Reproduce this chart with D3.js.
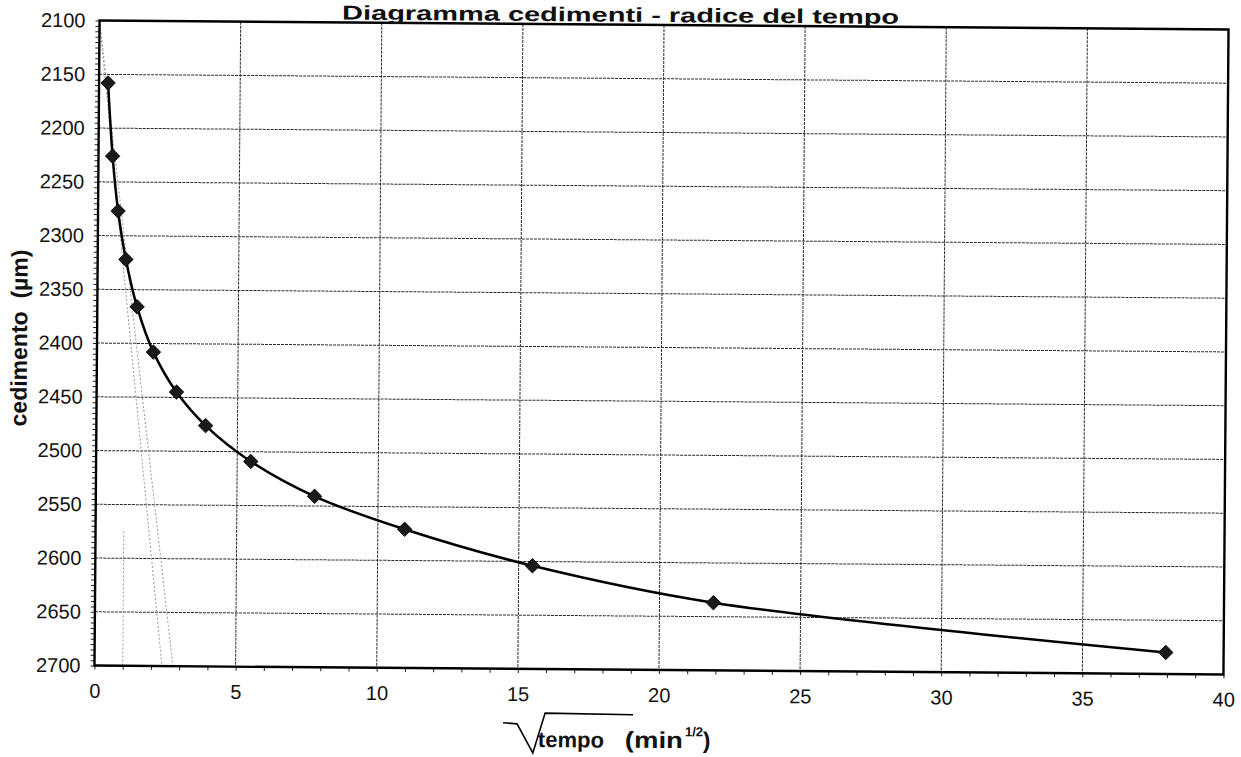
<!DOCTYPE html>
<html>
<head>
<meta charset="utf-8">
<script src="https://cdn.jsdelivr.net/npm/d3@7"></script>
<style>
  body { margin: 0; background: #fff; }
  text { font-family: "Liberation Sans", Arial, sans-serif; fill: #111; white-space: pre; }
</style>
</head>
<body>
<svg id="chart"></svg>
<script>
// data
const radiceTempo = [0.32, 0.5, 0.71, 1.0, 1.41, 2.0, 2.83, 3.87, 5.48, 7.75, 10.95, 15.49, 21.91, 37.95];
const cedimento = [2158, 2226, 2277, 2322, 2366, 2408, 2445, 2476, 2509, 2541, 2571, 2604, 2637, 2680];

// Taylor construction lines (thin grey)
const rettaA = [[0, 2100], [2.39, 2700]];
const rettaB = [[0, 2100], [2.78, 2700]];
const verticale = [[1.0, 2575], [1.0, 2700]];

const xTicks = [0, 5, 10, 15, 20, 25, 30, 35, 40];
const yTicks = [2100, 2150, 2200, 2250, 2300, 2350, 2400, 2450, 2500, 2550, 2600, 2650, 2700];

const W = 1241, H = 757;
const pLeft = 97, pRight = 1226, pTop = 25, pBottom = 670;

const svg = d3.select("#chart").attr("width", W).attr("height", H);
svg.append("rect").attr("width", W).attr("height", H).attr("fill", "#fff");

// scan is slightly tilted
const g = svg.append("g").attr("transform", "rotate(0.45, 661.5, 347.5)");

const x = d3.scaleLinear().domain([0, 40]).range([pLeft, pRight]);
const y = d3.scaleLinear().domain([2100, 2700]).range([pTop, pBottom]);

// griglia
g.append("g").selectAll("line")
  .data(xTicks.slice(1, -1))
  .enter().append("line")
  .attr("x1", d => x(d)).attr("x2", d => x(d))
  .attr("y1", pTop).attr("y2", pBottom)
  .attr("stroke", "#2a2a2a").attr("stroke-width", 1)
  .attr("stroke-dasharray", "3,1");

g.append("g").selectAll("line")
  .data(yTicks.slice(1, -1))
  .enter().append("line")
  .attr("x1", pLeft).attr("x2", pRight)
  .attr("y1", d => y(d)).attr("y2", d => y(d))
  .attr("stroke", "#2a2a2a").attr("stroke-width", 1)
  .attr("stroke-dasharray", "3,1");

// tacche minori
const yMinor = g.append("g").attr("transform", `translate(${pLeft},0)`)
  .call(d3.axisLeft(y).tickValues(d3.range(2100, 2701, 5)).tickSize(4).tickFormat(""));
yMinor.select(".domain").remove();
yMinor.selectAll("line").attr("stroke", "#222");

const xMinor = g.append("g").attr("transform", `translate(0,${pBottom})`)
  .call(d3.axisBottom(x).tickValues(d3.range(0, 41, 1)).tickSize(4).tickFormat(""));
xMinor.select(".domain").remove();
xMinor.selectAll("line").attr("stroke", "#222");

// etichette assi
const yAxis = g.append("g").attr("transform", `translate(${pLeft},0)`)
  .call(d3.axisLeft(y).tickValues(yTicks).tickSize(0).tickPadding(14).tickFormat(d3.format("d")));
yAxis.select(".domain").remove();
yAxis.selectAll("text").style("font-size", "20px")
  .style("font-family", "'Liberation Sans', Arial, sans-serif").attr("fill", "#111");

const xAxis = g.append("g").attr("transform", `translate(0,${pBottom})`)
  .call(d3.axisBottom(x).tickValues(xTicks).tickSize(0).tickPadding(18).tickFormat(d3.format("d")));
xAxis.select(".domain").remove();
xAxis.selectAll("text").style("font-size", "20px")
  .style("font-family", "'Liberation Sans', Arial, sans-serif").attr("fill", "#111");

// rette grigie
const lineXY = d3.line().x(d => x(d[0])).y(d => y(d[1]));
[rettaA, rettaB, verticale].forEach(r => {
  g.append("path").attr("d", lineXY(r))
    .attr("fill", "none").attr("stroke", "#999")
    .attr("stroke-width", 1).attr("stroke-dasharray", "2,2");
});

// bordo area
g.append("rect")
  .attr("x", pLeft).attr("y", pTop)
  .attr("width", pRight - pLeft).attr("height", pBottom - pTop)
  .attr("fill", "none").attr("stroke", "#000").attr("stroke-width", 2.4);

// curva
const punti = radiceTempo.map((t, i) => [t, cedimento[i]]);
const curva = d3.line()
  .x(d => x(d[0])).y(d => y(d[1]))
  .curve(d3.curveCatmullRom.alpha(0.5));

g.append("path").attr("d", curva(punti))
  .attr("fill", "none").attr("stroke", "#000").attr("stroke-width", 2.5);

g.append("g").selectAll("path")
  .data(punti)
  .enter().append("path")
  .attr("d", d3.symbol(d3.symbolSquare).size(105))
  .attr("transform", d => `translate(${x(d[0])},${y(d[1])}) rotate(45)`)
  .attr("fill", "#1a1a1a").attr("stroke", "#000").attr("stroke-width", 0.8);

// titolo
g.append("text")
  .attr("x", 618).attr("y", 22)
  .attr("text-anchor", "middle")
  .attr("textLength", 557).attr("lengthAdjust", "spacingAndGlyphs")
  .style("font-size", "20px").style("font-weight", "bold")
  .text("Diagramma cedimenti - radice del tempo");

// titolo asse y
g.append("text")
  .attr("transform", "translate(27,343) rotate(-90)")
  .attr("text-anchor", "middle")
  .style("font-size", "23px").style("font-weight", "bold")
  .text("cedimento\u00a0\u00a0(\u00b5m)");

// titolo asse x con radice
const xt = g.append("g").attr("transform", "translate(541,748)");
xt.append("path")
  .attr("d", "M-35,-24 L-21,-23 L-5,6 L7,-34 L95,-33")
  .attr("fill", "none").attr("stroke", "#000").attr("stroke-width", 1.6);
xt.append("text").attr("x", 0).attr("y", 0)
  .style("font-size", "22px").style("font-weight", "bold")
  .text("tempo");
xt.append("text").attr("x", 87).attr("y", 0)
  .attr("textLength", 58).attr("lengthAdjust", "spacingAndGlyphs")
  .style("font-size", "23px").style("font-weight", "bold")
  .text("(min");
xt.append("text").attr("x", 147).attr("y", -12)
  .style("font-size", "13px").style("font-weight", "bold")
  .text("1/2");
xt.append("text").attr("x", 165).attr("y", 0)
  .style("font-size", "23px").style("font-weight", "bold")
  .text(")");
</script>
</body>
</html>
